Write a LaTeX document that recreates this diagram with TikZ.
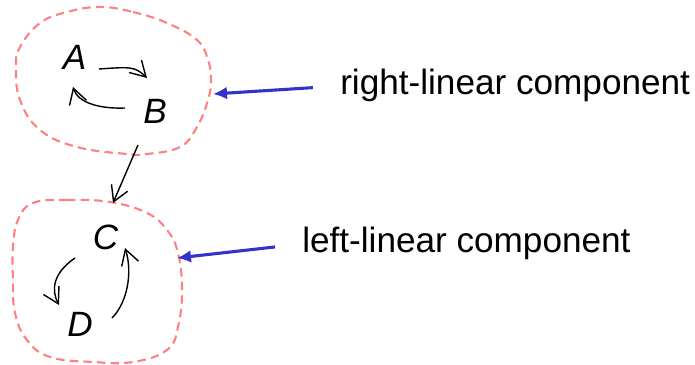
\documentclass[tikz,border=0pt]{standalone}
\usepackage{fontspec}
\setmainfont{Liberation Sans}
\usetikzlibrary{arrows.meta, calc}
\definecolor{blobred}{RGB}{255,128,128}
\definecolor{ptrblue}{RGB}{51,51,204}

\begin{document}
\begin{tikzpicture}[x=0.025cm, y=-0.025cm, font=\fontsize{25}{30}\selectfont,
  letter/.style={inner sep=0pt, font=\fontsize{25}{30}\selectfont\itshape},
  blob/.style={blobred, line width=1.5pt, dash pattern=on 0.21cm off 0.13cm},
  arr/.style={line width=1pt, -{Straight Barb[length=3.8mm, width=4.4mm]}},
  ptr/.style={ptrblue, line width=2.2pt, -{Latex[length=3.5mm, width=3.2mm]}}]
  \useasboundingbox (0,0) rectangle (695,365);
  % --- components ---
  \draw[blob] plot[smooth cycle, tension=0.7] coordinates {
    (100,7) (133,12) (167,23) (197,40) (208,60) (211,80) (208,100) (197,127)
    (180,147) (147,154) (127,154) (77,147) (40,130) (20,100) (16,67) (20,47)
    (40,23) (67,12)};
  \draw[blob] plot[smooth cycle, tension=0.7] coordinates {
    (33,203) (67,200) (110,202) (147,213) (167,230) (178,253) (182,290)
    (178,327) (167,350) (133,362) (93,362) (50,357) (27,340) (15,313)
    (13,280) (13,247) (18,220)};
  % --- nonterminals ---
  \node[letter] (A) at (74.5,57) {A};
  \node[letter] (B) at (155,111.5) {B};
  \node[letter] (C) at (105.5,237.5) {C};
  \node[letter] (D) at (80,324.5) {D};
  \draw[arr] ($(A)+(24.5,12)$) .. controls +(30,-2) and +(-12,-12) .. ($(B)+(-8,-33.5)$);
  \draw[arr] ($(B)+(-30,-3.5)$) .. controls +(-25,1) and +(5,16) .. ($(A)+(-1.5,30)$);
  \draw[arr] ($(B)+(-17,33.5)$) -- ($(C)+(7.5,-34.5)$);
  \draw[arr] ($(C)+(-30.5,20.5)$) .. controls +(-22,15) and +(-8,-15) .. ($(D)+(-21,-19.5)$);
  \draw[arr] ($(D)+(32,-6.5)$) .. controls +(15,-15) and +(8,25) .. ($(C)+(19.5,10.5)$);
  % --- side labels ---
  \coordinate (rtip) at (213,94);
  \coordinate (ltip) at (177,258);
  \node[anchor=base west, inner sep=0pt] (rlabel) at (340,95) {right-linear component};
  \node[anchor=base west, inner sep=0pt] (llabel) at (302,253) {left-linear component};
  \draw[ptr, shorten <=0.68cm] (rlabel.west) -- (rtip);
  \draw[ptr, shorten <=0.68cm] (llabel.west) -- (ltip);
\end{tikzpicture}
\end{document}
